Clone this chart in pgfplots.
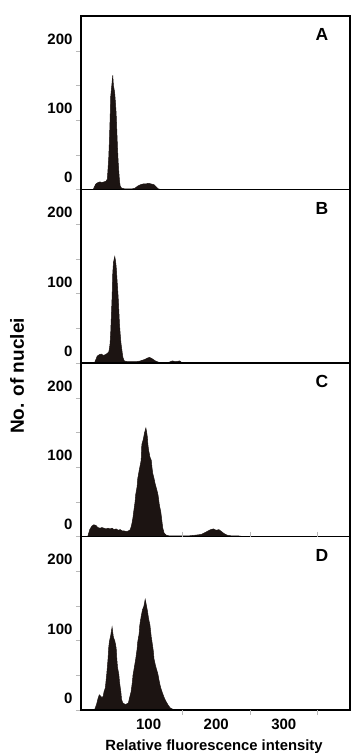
\documentclass[border=0pt]{standalone}
\usepackage{fontspec}
\setmainfont{Liberation Sans}
\usepackage{pgfplots}
\pgfplotsset{compat=1.18}
\definecolor{hist}{RGB}{28,20,18}
\tikzset{letter/.style={anchor=north, inner sep=0pt, yshift=-12.5pt, font=\fontsize{17.5}{19}\selectfont\bfseries}}
\begin{document}
\begin{tikzpicture}
\useasboundingbox (0,0) rectangle (354pt,-753pt);
\pgfplotsset{
  panel/.style={
    width=269pt, height=173.5pt, scale only axis,
    xmin=0, xmax=398, ymin=0, ymax=251,
    axis on top,
    axis line style={line width=1.5pt, black},
    tick align=outside, major tick length=5pt,
    tick style={gray!55, line width=0.8pt},
    ytick={0,50,100,150,200}, yticklabels={0,,100,,200},
    ytick pos=left,
    yticklabel style={yshift=12pt, font=\fontsize{15}{16}\selectfont\bfseries},
    /pgf/number format/assume math mode=true,
    xtick=\empty,
  },
}
% Panel A
\begin{axis}[panel, name=A, at={(81pt,-16pt)}, anchor=north west]
\addplot[fill=hist, draw=hist, line width=0.5pt] coordinates {
(18,0)(20,4)(22,8)(25,10)(28,11)(31,10)(34,11)(37,12)(39,15)(40,30)(41,45)(42,70)(43,100)(44,135)(45,145)(46,155)(47,165)(48,150)(49,145)(50,138)(51,125)(52,110)(53,85)(54,60)(55,40)(56,25)(57,12)(58,5)(60,2)(64,1)(70,1)(76,1)(80,2)(84,5)(88,7)(92,8)(96,8)(100,9)(104,8)(108,7)(111,4)(114,1)(118,0)
} \closedcycle;
\node[letter] at (rel axis cs:0.896,1) {A};
\end{axis}
% Panel B
\begin{axis}[panel, name=B, at={(A.south west)}, anchor=north west]
\addplot[fill=hist, draw=hist, line width=0.5pt] coordinates {
(20,0)(22,5)(24,10)(27,12)(30,13)(33,11)(36,12)(39,14)(41,16)(42,20)(43,28)(44,45)(45,70)(46,95)(47,130)(48,145)(49,150)(50,154)(51,148)(52,140)(53,125)(54,110)(55,95)(56,75)(57,55)(58,42)(59,30)(60,22)(61,15)(62,8)(64,3)(68,2)(75,2)(82,2)(88,3)(94,5)(98,7)(101,8)(104,7)(107,5)(110,3)(115,1)(120,0)(130,1)(135,3)(140,2)(146,3)(150,0)
} \closedcycle;
\node[letter] at (rel axis cs:0.896,1) {B};
\end{axis}
% Panel C
\begin{axis}[panel, name=C, at={(B.south west)}, anchor=north west]
\addplot[fill=hist, draw=hist, line width=0.5pt] coordinates {
(10,0)(13,10)(16,15)(19,17)(22,16)(25,13)(28,12)(31,13)(34,12)(37,11)(40,12)(43,11)(46,12)(49,10)(52,11)(55,9)(58,10)(61,8)(64,8)(67,7)(70,8)(73,10)(75,17)(77,28)(78,36)(80,50)(81,61)(83,72)(84,84)(86,95)(88,105)(89,110)(90,133)(92,140)(94,150)(96,157)(97,152)(98,145)(99,133)(100,125)(102,115)(104,110)(105,100)(106,92)(108,84)(110,75)(112,68)(114,60)(116,45)(118,36)(120,20)(121,12)(123,5)(126,2)(130,1)(140,1)(150,1)(160,1)(170,2)(178,3)(184,6)(188,8)(192,10)(196,11)(200,9)(204,10)(208,7)(212,4)(216,2)(222,1)(232,1)(240,0)
} \closedcycle;
\node[letter] at (rel axis cs:0.896,1) {C};
\end{axis}
% Panel D
\begin{axis}[panel, name=D, at={(C.south west)}, anchor=north west,
  xtick={100,200,300},
  major x tick style={draw=none},
  xticklabel style={font=\fontsize{15}{16}\selectfont\bfseries},
  extra x ticks={150,250,350}, extra x tick labels={},
  extra x tick style={major x tick style={draw=gray!55, line width=0.8pt}},
]
\addplot[fill=hist, draw=hist, line width=0.5pt] coordinates {
(20,0)(23,8)(25,16)(27,22)(29,20)(31,18)(33,20)(34,26)(36,32)(38,51)(39,62)(40,74)(41,90)(42,99)(44,108)(46,120)(47,112)(48,105)(50,100)(52,90)(53,74)(54,62)(56,51)(57,40)(59,26)(60,15)(62,10)(64,9)(66,8)(68,9)(70,10)(72,18)(74,26)(76,40)(77,51)(79,62)(81,74)(83,88)(84,99)(86,110)(87,123)(89,135)(91,145)(93,150)(95,160)(96,155)(98,145)(100,132)(102,123)(104,105)(105,99)(107,85)(108,74)(110,65)(112,58)(114,51)(116,40)(118,32)(120,26)(123,18)(126,12)(129,7)(132,3)(136,1)(140,0)
} \closedcycle;
\node[letter] at (rel axis cs:0.896,1) {D};
\end{axis}
\node[rotate=90, font=\fontsize{19}{21}\selectfont\bfseries] at (17pt,-376pt) {No. of nuclei};
\node[anchor=base, font=\fontsize{14.8}{16}\selectfont\bfseries] at (214pt,-750pt) {Relative fluorescence intensity};
\end{tikzpicture}
\end{document}
